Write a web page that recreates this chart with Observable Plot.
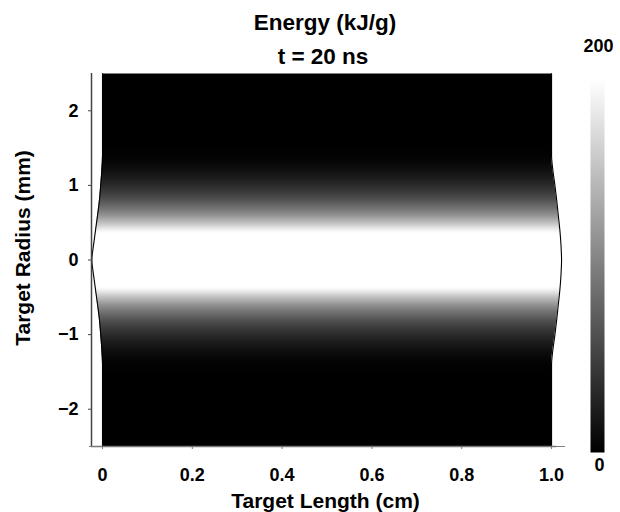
<!DOCTYPE html>
<html><head><meta charset="utf-8">
<script src="https://cdn.jsdelivr.net/npm/d3@7"></script>
<script src="https://cdn.jsdelivr.net/npm/@observablehq/plot@0.6"></script>
<style>
body{margin:0;background:#fff;}
#wrap{position:relative;width:620px;height:512px;}
#wrap svg{position:absolute;top:0;}
</style></head><body><div id="wrap"></div>
<script>
// Radial energy profile (kJ/g), uniform along the target length
const radius = [-2.7, -2.5, -2.0, -1.6, -1.5, -1.4, -1.3, -1.2, -1.1, -1.0, -0.9, -0.8, -0.7, -0.6, -0.5, -0.4, -0.3, -0.2, -0.1, 0,
  0.1, 0.2, 0.3, 0.4, 0.5, 0.6, 0.7, 0.8, 0.9, 1.0, 1.1, 1.2, 1.3, 1.4, 1.5, 1.6, 2.0, 2.5, 2.7];
const energy = [0, 0, 0, 0, 0.5, 2, 6, 13, 22, 34, 48, 66, 88, 115, 150, 190, 215, 232, 238, 240,
  238, 232, 215, 190, 150, 115, 88, 66, 48, 34, 22, 13, 6, 2, 0.5, 0, 0, 0, 0];
const fieldLength = [-0.1, 1.1];

// Target boundary (cm) versus radius (mm)
const boundaryRadius = [-2.5, -1.4, -1.2, -1.0, -0.8, -0.6, -0.4, -0.2, -0.1, 0, 0.1, 0.2, 0.4, 0.6, 0.8, 1.0, 1.2, 1.4, 2.5];
const leftEdge = [0, 0, -0.0015, -0.004, -0.0068, -0.011, -0.0155, -0.0200, -0.0222, -0.0238, -0.0222, -0.0200, -0.0155, -0.011, -0.0068, -0.004, -0.0015, 0, 0];
const rightEdge = [1.0, 1.0, 1.003, 1.0075, 1.0115, 1.015, 1.0185, 1.021, 1.0218, 1.0223, 1.0218, 1.021, 1.0185, 1.015, 1.0115, 1.0075, 1.003, 1.0, 1.0];

const xTicks = [0, 0.2, 0.4, 0.6, 0.8, 1.0];
const xTickLabels = ["0", "0.2", "0.4", "0.6", "0.8", "1.0"];
const yTicks = [-2, -1, 0, 1, 2];
const yTickLabels = ["\u22122", "\u22121", "0", "1", "2"];
const colorDomain = [0, 200];
const colorbarLabels = ["0", "200"];

const titleText = "Energy (kJ/g)";
const subtitleText = "t = 20 ns";
const xLabel = "Target Length (cm)";
const yLabel = "Target Radius (mm)";

const xDomain = [-0.0245, 1.011];
const yDomain = [-2.5, 2.5];
const FONT = "'Liberation Sans', Arial, Helvetica, sans-serif";

const field = radius.flatMap((r, i) => fieldLength.map(x => ({x, r, e: energy[i]})));
const boundary = boundaryRadius.map((r, i) => ({r, left: leftEdge[i], right: rightEdge[i]}));
const colorScale = {type: "linear", domain: colorDomain, range: ["black", "white"], clamp: true};

const main = Plot.plot({
  width: 620, height: 512,
  marginLeft: 91, marginRight: 64, marginTop: 73, marginBottom: 66,
  style: {fontFamily: FONT, fontWeight: "bold", background: "white"},
  x: {domain: xDomain, axis: null},
  y: {domain: yDomain, axis: null},
  color: colorScale,
  marks: [
    Plot.raster(field, {x: "x", y: "r", fill: "e", x1: -0.03, x2: 1.03, y1: -2.5, y2: 2.5, interpolate: "barycentric"}),
    Plot.areaX(boundary, {y: "r", x1: -0.045, x2: "left", fill: "white", curve: "monotone-y"}),
    Plot.areaX(boundary, {y: "r", x1: "right", x2: 1.045, fill: "white", curve: "monotone-y"}),
    Plot.line(boundary, {x: "left", y: "r", stroke: "black", strokeWidth: 1.1, curve: "monotone-y"}),
    Plot.line(boundary, {x: "right", y: "r", stroke: "black", strokeWidth: 1.1, curve: "monotone-y"}),
    Plot.ruleX([xDomain[0]], {y1: yDomain[0], y2: yDomain[1], stroke: "#444", strokeWidth: 1.5}),
    Plot.ruleY([yDomain[0]], {x1: xDomain[0], x2: xDomain[1], stroke: "#777", strokeWidth: 1.5}),
    Plot.axisX(xTicks, {anchor: "bottom", tickSize: 3, tickPadding: 19, stroke: "#777", fill: "black", fontSize: 18, fontWeight: "bold",
      tickFormat: d => xTickLabels[xTicks.indexOf(d)], label: null}),
    Plot.axisY(yTicks, {anchor: "left", tickSize: 3, tickPadding: 10, stroke: "#444", fill: "black", fontSize: 18, fontWeight: "bold",
      tickFormat: d => yTickLabels[yTicks.indexOf(d)], label: null}),
    Plot.text([titleText], {frameAnchor: "top", lineAnchor: "middle", textAnchor: "middle", dx: 1, dy: -50.5, fontSize: 22.5, fontWeight: "bold", fill: "black"}),
    Plot.text([subtitleText], {frameAnchor: "top", lineAnchor: "middle", textAnchor: "middle", dx: -1, dy: -16.5, fontSize: 22.5, fontWeight: "bold", fill: "black"}),
    Plot.text([xLabel], {frameAnchor: "bottom", lineAnchor: "middle", textAnchor: "middle", dx: 1.5, dy: 54.5, fontSize: 21, fontWeight: "bold", fill: "black"}),
    Plot.text([yLabel], {frameAnchor: "left", lineAnchor: "middle", textAnchor: "middle", rotate: -90, dx: -68, dy: -12, fontSize: 21, fontWeight: "bold", fill: "black"})
  ]
});

const bar = Plot.plot({
  width: 50, height: 512,
  marginLeft: 20, marginRight: 16, marginTop: 80, marginBottom: 60,
  style: {fontFamily: FONT, fontWeight: "bold", background: "transparent", overflow: "visible"},
  x: {domain: [0, 1], axis: null},
  y: {domain: colorDomain, axis: null},
  color: colorScale,
  marks: [
    Plot.raster({fill: (x, y) => y, x1: 0, x2: 1, y1: colorDomain[0], y2: colorDomain[1]}),
    Plot.text([colorbarLabels[1]], {x: 0.5, y: colorDomain[1], dx: 1, dy: -34, lineAnchor: "middle", fontSize: 18, fontWeight: "bold", fill: "black"}),
    Plot.text([colorbarLabels[0]], {x: 0.5, y: colorDomain[0], dx: 2, dy: 13, lineAnchor: "middle", fontSize: 18, fontWeight: "bold", fill: "black"})
  ]
});

const wrap = document.getElementById("wrap");
main.style.left = "0px";
bar.style.left = "570px";
wrap.appendChild(main);
wrap.appendChild(bar);
</script></body></html>
